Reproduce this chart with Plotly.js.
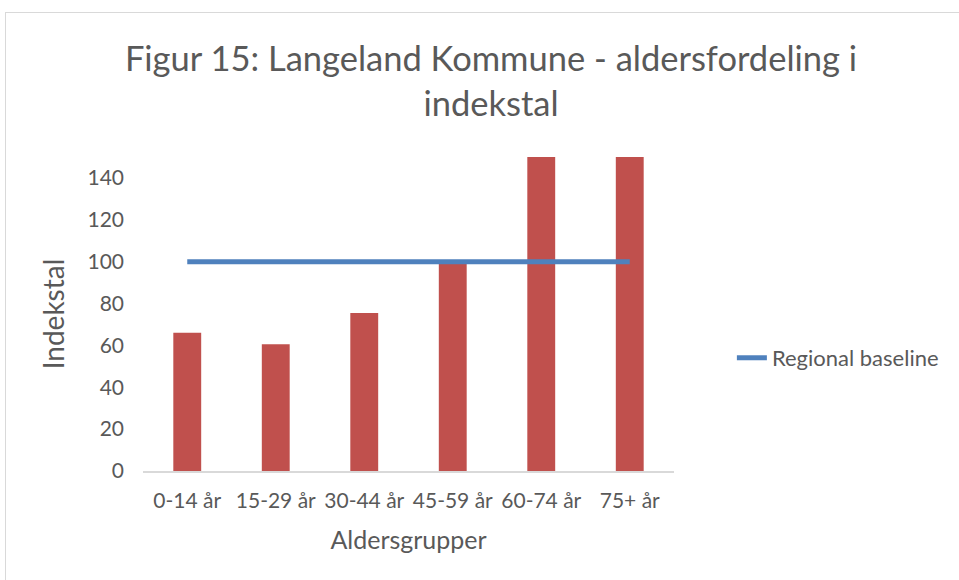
<!DOCTYPE html>
<html>
<head>
<meta charset="utf-8">
<script src="https://cdn.plot.ly/plotly-3.0.1.min.js"></script>
<style>
  html, body { margin: 0; padding: 0; background: #fff; }
  #wrap { position: relative; width: 959px; height: 580px; overflow: hidden; }
  #chart { width: 959px; height: 580px; }
  #frame { position: absolute; left: 5px; top: 12px; width: 1000px; height: 1000px;
           border: 1.5px solid #d9d9d9; pointer-events: none; }
</style>
</head>
<body>
<div id="wrap">
  <div id="chart"></div>
  <div id="frame"></div>
</div>
<script>
const categories = ['0-14 år', '15-29 år', '30-44 år', '45-59 år', '60-74 år', '75+ år'];
const indexValues = [66, 60.5, 75.5, 99, 165, 190];
const baselineValues = [100, 100, 100, 100, 100, 100];
const yTicks = [0, 20, 40, 60, 80, 100, 120, 140];
const titleText = 'Figur 15: Langeland Kommune - aldersfordeling i<br>indekstal';
const xTitle = 'Aldersgrupper';
const yTitle = 'Indekstal';
const baselineName = 'Regional baseline';

const FONT = 'Lato, "Open Sans", sans-serif';
const TEXT = '#595959';

const traces = [
  {
    type: 'bar',
    x: categories,
    y: indexValues,
    marker: { color: '#C0504D' },
    showlegend: false,
    hoverinfo: 'x+y'
  },
  {
    type: 'scatter',
    mode: 'lines',
    x: categories,
    y: baselineValues,
    name: baselineName,
    line: { color: '#4F81BD', width: 5 }
  }
];

const layout = {
  width: 959,
  height: 580,
  margin: { l: 143, r: 285, t: 157, b: 109 },
  paper_bgcolor: '#ffffff',
  plot_bgcolor: '#ffffff',
  font: { family: FONT, color: TEXT, size: 21 },
  title: {
    text: titleText,
    font: { family: FONT, size: 34.5, color: TEXT },
    x: 0.512, xanchor: 'center',
    y: 0.877, yanchor: 'top'
  },
  bargap: 0.685,
  showlegend: true,
  legend: {
    x: 1.109, xanchor: 'left',
    y: 0.36, yanchor: 'middle',
    font: { family: FONT, size: 22, color: TEXT },
    bgcolor: 'rgba(0,0,0,0)'
  },
  xaxis: {
    type: 'category',
    showgrid: false,
    showline: true,
    linecolor: '#d9d9d9',
    linewidth: 1.5,
    ticks: '',
    ticklabelstandoff: 10,
    tickfont: { family: FONT, size: 21, color: TEXT },
    title: { text: xTitle, font: { family: FONT, size: 25, color: TEXT }, standoff: 21 },
    zeroline: false
  },
  yaxis: {
    range: [0, 150],
    tickvals: yTicks,
    ticktext: yTicks.map(String),
    showgrid: false,
    showline: false,
    zeroline: false,
    ticks: '',
    ticklabelstandoff: 18,
    tickfont: { family: FONT, size: 21, color: TEXT },
    title: { text: yTitle, font: { family: FONT, size: 28, color: TEXT }, standoff: 14 }
  }
};

Plotly.newPlot('chart', traces, layout, { displayModeBar: false, staticPlot: true });
</script>
</body>
</html>
